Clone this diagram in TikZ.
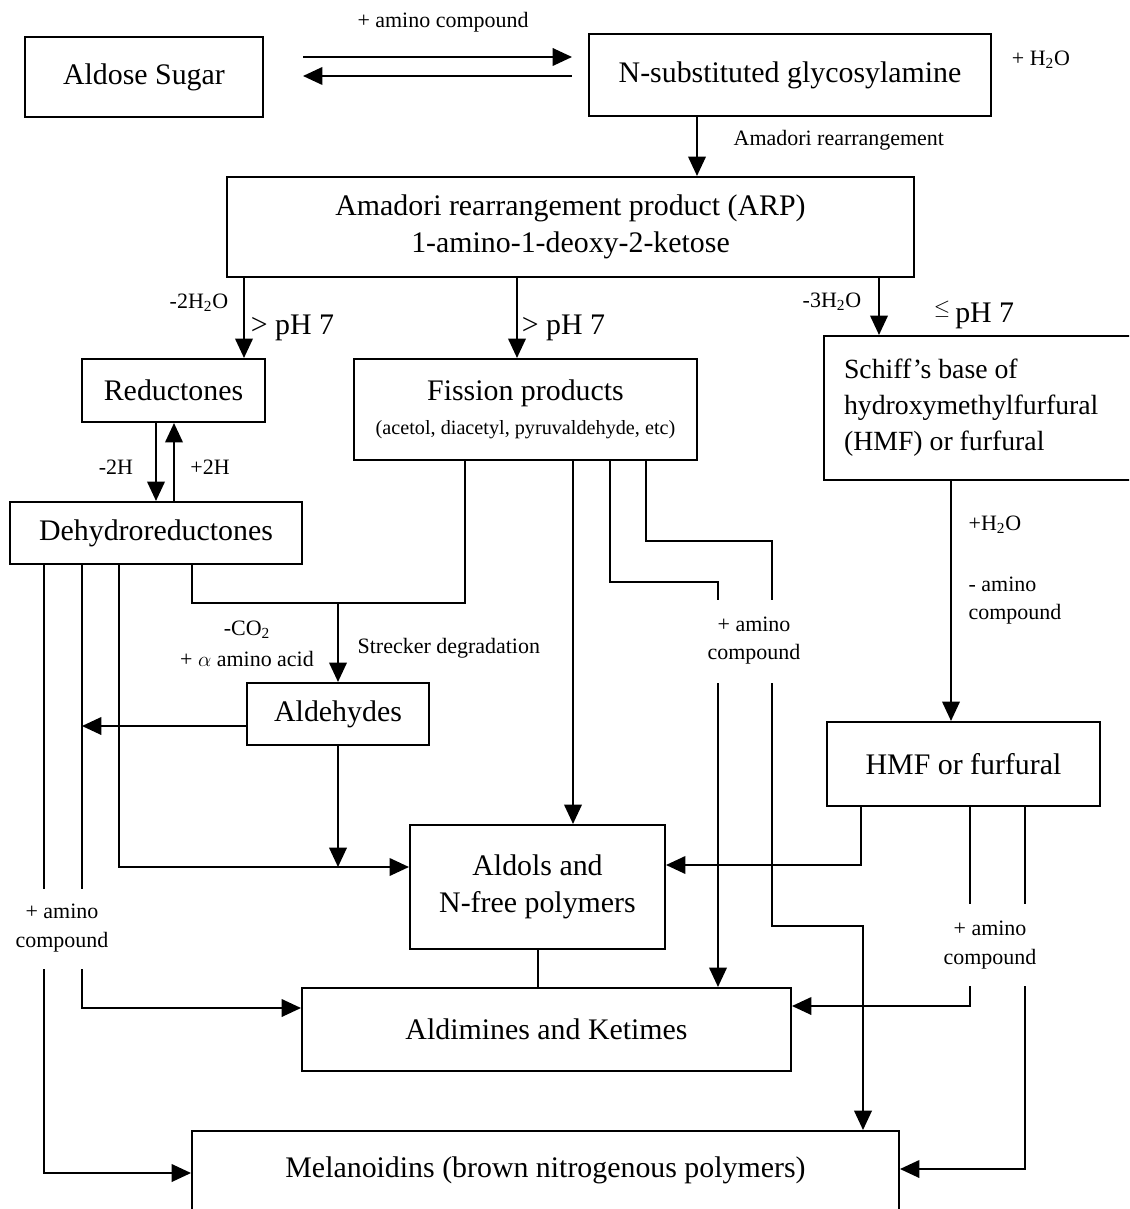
\documentclass[tikz,border=0pt]{standalone}
\usepackage{fontspec}
\setmainfont{Liberation Serif}
\usetikzlibrary{arrows.meta}

\newcommand{\bigtxt}{\fontsize{17}{21}\selectfont}
\newcommand{\midtxt}{\fontsize{15.8}{20.5}\selectfont}
\newcommand{\smltxt}{\fontsize{12.5}{16}\selectfont}
\newcommand{\tinytxt}{\fontsize{11.5}{14}\selectfont}

\tikzset{
  box/.style={draw, line width=1.2pt, inner sep=0pt, align=center, font=\bigtxt},
  lbl/.style={font=\smltxt, align=center, inner sep=1pt},
  phlbl/.style={font=\bigtxt, anchor=west, inner sep=0pt}
}

\begin{document}
\begin{tikzpicture}[x=0.02cm, y=-0.02cm, line width=1pt, >={Triangle[length=11pt,width=10pt]}]
\useasboundingbox (0,0) rectangle (1129,1209);
\clip (0,0) rectangle (1129,1209);

% boxes
\node[box, minimum width=4.76cm, minimum height=1.6cm] (sugar) at (144,77) {Aldose Sugar};
\node[box, minimum width=8.04cm, minimum height=1.64cm] (glyc) at (790,75) {N-substituted glycosylamine};
\node[box, minimum width=13.74cm, minimum height=2cm] (arp) at (570.5,227)
  {Amadori rearrangement product (ARP)\\1-amino-1-deoxy-2-ketose};
\node[box, minimum width=3.66cm, minimum height=1.26cm] (red) at (173.5,390.5) {Reductones};
\node[box, minimum width=6.86cm, minimum height=2.02cm] (fis) at (525.5,409.5)
  {Fission products\\[-2pt]{\tinytxt(acetol, diacetyl, pyruvaldehyde, etc)}};
\node[box, font=\midtxt, align=flush left, text width=5.72cm, inner xsep=0.4cm, minimum height=2.88cm] (schiff) at (987,408)
  {Schiff's base of\\hydroxymethylfurfural\\(HMF) or furfural};
\node[box, minimum width=5.84cm, minimum height=1.24cm] (dehy) at (156,533) {Dehydroreductones};
\node[box, minimum width=3.64cm, minimum height=1.24cm] (aldh) at (338,714) {Aldehydes};
\node[box, minimum width=5.46cm, minimum height=1.68cm] (hmf) at (963.5,764) {HMF or furfural};
\node[box, minimum width=5.1cm, minimum height=2.48cm] (aldol) at (537.5,887) {Aldols and\\N-free polymers};
\node[box, minimum width=9.78cm, minimum height=1.66cm] (imine) at (546.5,1029.5) {Aldimines and Ketimes};
\node[box, anchor=north, minimum width=14.14cm, text height=26.5pt, text depth=70pt] (mela) at (545.5,1130)
  {Melanoidins (brown nitrogenous polymers)};

% top row
\draw[->, shorten <=0.78cm, shorten >=0.32cm] (sugar.east |- 0,57) -- (glyc.west |- 0,57);
\draw[->, shorten <=0.32cm, shorten >=0.78cm] (glyc.west |- 0,76) -- (sugar.east |- 0,76);
\node[lbl] (lamino) at (443,22) {+ amino compound};
\node[lbl] (lwater) at (1041,60) {+ H\textsubscript{2}O};

\draw[->] (697,0 |- glyc.south) -- (697,0 |- arp.north);
\node[lbl, anchor=west] (lamad) at (731,140) {Amadori rearrangement};

% from ARP
\draw[->] (244,0 |- arp.south) -- (244,0 |- red.north);
\node[lbl] (lminus2) at (199,303) {-2H\textsubscript{2}O};
\node[phlbl] (lph1) at (250,328) {> pH 7};
\draw[->] (517,0 |- arp.south) -- (517,0 |- fis.north);
\node[phlbl] (lph2) at (521,328) {> pH 7};
\draw[->] (879,0 |- arp.south) -- (879,0 |- schiff.north);
\node[lbl] (lminus3) at (832,302) {-3H\textsubscript{2}O};
\node[phlbl] (lph3) at (933,315) {\raisebox{5pt}{\smltxt$\leq$}\,pH 7};

% reductones <-> dehydroreductones
\draw[->] (156,0 |- red.south) -- (156,0 |- dehy.north);
\draw[->] (174,0 |- dehy.north) -- (174,0 |- red.south);
\node[lbl] (lm2h) at (116,467) {-2H};
\node[lbl] (lp2h) at (210,467) {+2H};

% Strecker degradation
\coordinate (strk) at (338,603);
\draw (192,0 |- dehy.south) |- (strk) -| (465,0 |- fis.south);
\draw[->] (strk) -- (aldh.north);
\node[lbl] (lco2) at (247,630) {-CO\textsubscript{2}};
\node[lbl] (lacid) at (247,659) {+ $\alpha$ amino acid};
\node[lbl, anchor=west] (lstrk) at (355,648) {Strecker degradation};

% from dehydroreductones and aldehydes
\draw[->] (119,0 |- dehy.south) |- (aldol.west |- 0,867);
\draw[->] (aldh.south) -- (aldh.south |- 0,867);
\draw[->] (aldh.west |- 0,726) -- (82,726);
\draw (82,0 |- dehy.south) -- (82,889);
\draw[->] (82,969) |- (imine.west |- 0,1008);
\draw (44,0 |- dehy.south) -- (44,889);
\draw[->] (44,969) |- (mela.west |- 0,1173);
\node[lbl] (lamleft) at (62,928) {+ amino\\compound};

% from fission products
\draw[->] (573,0 |- fis.south) -- (573,0 |- aldol.north);
\draw (610,0 |- fis.south) |- (718,582) -- (718,600);
\draw[->] (718,683) -- (718,0 |- imine.north);
\draw (646,0 |- fis.south) |- (772,541) -- (772,600);
\draw[->] (772,683) |- (863,926) -- (863,0 |- mela.north);
\node[lbl] (lammid) at (754,641) {+ amino\\compound};

% Schiff's base -> HMF
\draw[->] (951,0 |- schiff.south) -- (951,0 |- hmf.north);
\node[lbl, anchor=west] (lplusw) at (966,525) {+H\textsubscript{2}O};
\node[lbl, anchor=west, align=flush left] (lminam) at (966,601) {- amino\\compound};

% from HMF
\draw[->] (861,0 |- hmf.south) |- (aldol.east |- 0,865);
\draw (970,0 |- hmf.south) -- (970,904);
\draw[->] (970,986) |- (imine.east |- 0,1006);
\draw (1025,0 |- hmf.south) -- (1025,904);
\draw[->] (1025,986) |- (mela.east |- 0,1169);
\node[lbl] (lamright) at (990,945) {+ amino\\compound};

\draw (538,0 |- aldol.south) -- (538,0 |- imine.north);

\end{tikzpicture}
\end{document}
